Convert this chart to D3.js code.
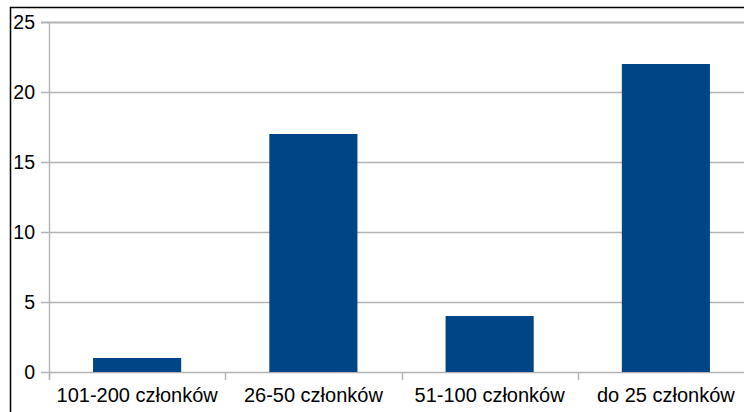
<!DOCTYPE html>
<html><head><meta charset="utf-8">
<script src="https://cdn.jsdelivr.net/npm/d3@7"></script>
<style>html,body{margin:0;padding:0;background:#fff;overflow:hidden}svg{display:block}</style>
</head><body>
<script>
const categories = ["101-200 członków", "26-50 członków", "51-100 członków", "do 25 członków"];
const values = [1, 17, 4, 22];
const yTicks = [0, 5, 10, 15, 20, 25];

const W = 744, H = 412;
const m = {left: 49, right: 754, top: 22, bottom: 372};
const svg = d3.select("body").append("svg").attr("width", W).attr("height", H);

svg.append("rect").attr("x", 10.5).attr("y", 7.5).attr("width", 900).attr("height", 600)
  .attr("fill", "#fff").attr("stroke", "#000").attr("stroke-width", 1.5);

const y = d3.scaleLinear().domain([0, 25]).range([m.bottom, m.top]);
const x = d3.scaleBand().domain(categories).range([m.left, m.right]).paddingInner(0.5).paddingOuter(0.25);

const font = "'Liberation Sans', Arial, sans-serif";
// gridlines
svg.append("g").selectAll("line").data(yTicks).join("line")
  .attr("x1", m.left - 8).attr("x2", m.right)
  .attr("y1", d => Math.round(y(d)) + 0.5).attr("y2", d => Math.round(y(d)) + 0.5)
  .attr("stroke", "#b3b3b3").attr("stroke-width", d => d === 25 ? 2 : 1.4);

// left axis line
svg.append("line").attr("x1", m.left + 0.5).attr("x2", m.left + 0.5)
  .attr("y1", m.top).attr("y2", m.bottom + 8).attr("stroke", "#b3b3b3").attr("stroke-width", 1.4);

// category boundary ticks
const step = x.step();
const bounds = categories.map(c => x(c) - (step - x.bandwidth()) / 2).concat([m.right]);
svg.append("g").selectAll("line").data(bounds).join("line")
  .attr("x1", d => Math.round(d) + 0.5).attr("x2", d => Math.round(d) + 0.5)
  .attr("y1", m.bottom).attr("y2", m.bottom + 8)
  .attr("stroke", "#b3b3b3").attr("stroke-width", 1.4);

// bars
svg.append("g").selectAll("rect").data(values).join("rect")
  .attr("x", (d, i) => x(categories[i])).attr("width", x.bandwidth())
  .attr("y", d => y(d)).attr("height", d => y(0) - y(d))
  .attr("fill", "#004586");

// y labels
svg.append("g").selectAll("text").data(yTicks).join("text")
  .attr("x", 35).attr("y", d => y(d)).attr("dy", "0.36em")
  .attr("text-anchor", "end").attr("font-family", font).attr("font-size", 19.5)
  .attr("fill", "#000").text(d => d);

// x labels
svg.append("g").selectAll("text").data(categories).join("text")
  .attr("x", d => x(d) + x.bandwidth() / 2).attr("y", 402)
  .attr("text-anchor", "middle").attr("font-family", font).attr("font-size", 20)
  .attr("fill", "#000").text(d => d);
</script>
</body></html>
